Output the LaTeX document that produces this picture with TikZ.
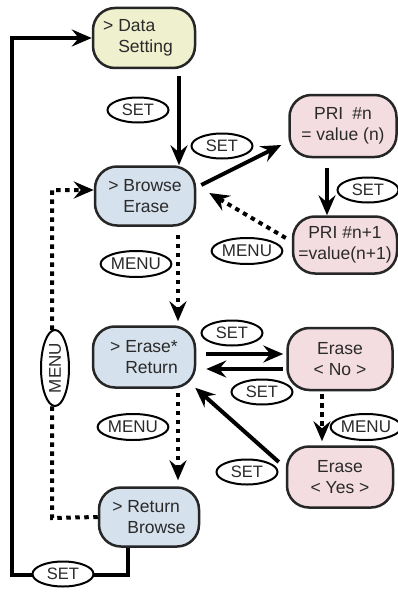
\documentclass[tikz,border=0pt]{standalone}
\usepackage{fontspec}
\setmainfont{Liberation Sans}
\usetikzlibrary{arrows.meta,shapes.geometric}
\definecolor{yfill}{HTML}{EEF0CE}
\definecolor{bfill}{HTML}{D5E1EC}
\definecolor{pfill}{HTML}{F3DDE1}
\definecolor{txt}{HTML}{2A2A2A}
\begin{document}
\begin{tikzpicture}[x=1pt,y=-1pt,
  box/.style={draw=black!85, line width=2.5pt, rounded corners=22pt, minimum width=102pt, minimum height=60pt, align=left, font=\fontsize{17.5}{21}\selectfont, text=txt, inner sep=0pt},
  pbox/.style={box, align=center, fill=pfill, minimum width=106pt},
  lab/.style={draw=black, line width=2pt, ellipse, fill=white, font=\fontsize{16.5}{16}\selectfont, text=txt, minimum width=61pt, minimum height=25pt, inner sep=0pt},
  mlab/.style={lab, font=\fontsize{17}{17}\selectfont, minimum width=68pt, minimum height=26pt},
  solidarrow/.style={line width=4pt, -{Stealth[length=20pt,width=17pt,inset=7pt]}},
  dotarrow/.style={line width=4pt, dash pattern=on 4.5pt off 4.5pt, -{Stealth[length=20pt,width=17pt,inset=7pt]}}
]
\useasboundingbox (0,0) rectangle (398,594);
\fill[white] (0,0) rectangle (398,594);

\node[box, fill=yfill] (ds) at (144,38) {> Data\\\phantom{> }Setting\hspace*{12pt}};
\node[box, fill=bfill, minimum width=100pt, minimum height=59pt] (be) at (145,196) {> Browse\\\phantom{> }Erase};
\node[box, fill=bfill, minimum height=61pt] (er) at (144,357) {> Erase*\\\phantom{> }Return};
\node[box, fill=bfill, minimum width=100pt, minimum height=59pt] (rb) at (149,517) {> Return\\\phantom{> }Browse};
\node[pbox, minimum width=107pt, minimum height=62pt] (p1) at (343,126) {PRI\hspace{9pt}\#n\\= value (n)};
\node[pbox, minimum width=104pt, minimum height=57pt] (p2) at (345,245) {PRI \#n+1\\=value(n+1)};
\node[pbox, minimum width=105pt, minimum height=62pt] (en) at (340,359) {Erase\\< No >};
\node[pbox, minimum height=61pt] (ey) at (340,477) {Erase\\< Yes >};

% solid connectors
\coordinate (lc) at (12,575);
\draw[solidarrow] ([xshift=-21pt]rb.south) |- (lc) |- (ds.west);
\draw[solidarrow] ([xshift=35pt,yshift=-7pt]ds.south) -- ([xshift=34pt]be.north);
\draw[solidarrow] ([xshift=5pt,yshift=11pt]be.east) -- ([xshift=-7pt,yshift=-19pt]p1.west);
\draw[solidarrow] ([xshift=-16pt,yshift=-10pt]p1.south) -- ([xshift=-18pt]p2.north);
\draw[solidarrow] ([xshift=10pt,yshift=3pt]er.east) -- ([xshift=-3pt,yshift=5pt]en.west);
\draw[solidarrow] ([xshift=-3pt,yshift=-10pt]en.west) -- ([xshift=10pt,yshift=-12pt]er.east);
\draw[solidarrow] ([xshift=-7pt,yshift=15pt]ey.west) -- ([xshift=-1pt,yshift=1pt]er.south east);

% dotted connectors
\coordinate (dc) at (52,518);
\draw[dotarrow] (rb.west) -- (dc) |- ([yshift=6pt]be.west);
\draw[dotarrow] ([xshift=-6pt,yshift=7pt]p2.west) -- ([xshift=13pt,yshift=3pt]be.east);
\draw[dotarrow] ([xshift=33pt,yshift=-8pt]be.south) -- ([xshift=34pt,yshift=4pt]er.north);
\draw[dotarrow] ([xshift=34pt,yshift=-4pt]er.south) -- ([xshift=29pt,yshift=6pt]rb.north);
\draw[dotarrow] ([xshift=-18pt,yshift=-3pt]en.south) -- ([xshift=-18pt,yshift=4pt]ey.north);

% labels
\node[lab] (s1) at (138,110) {SET};
\node[lab] (s2) at (222,146) {SET};
\node[lab] (s3) at (368,190) {SET};
\node[mlab] (m1) at (247,251) {MENU};
\node[mlab] (m2) at (136,264) {MENU};
\node[mlab] (m3) at (133,427) {MENU};
\node[lab] (s4) at (232,333) {SET};
\node[lab] (s5) at (262,392) {SET};
\node[mlab] (m4) at (366,427) {MENU};
\node[lab] (s6) at (247,472) {SET};
\node[lab] (s7) at (63,574) {SET};
\node[mlab, rotate=90, minimum width=76pt, minimum height=28pt] (m5) at (55,368) {MENU};
\end{tikzpicture}
\end{document}
